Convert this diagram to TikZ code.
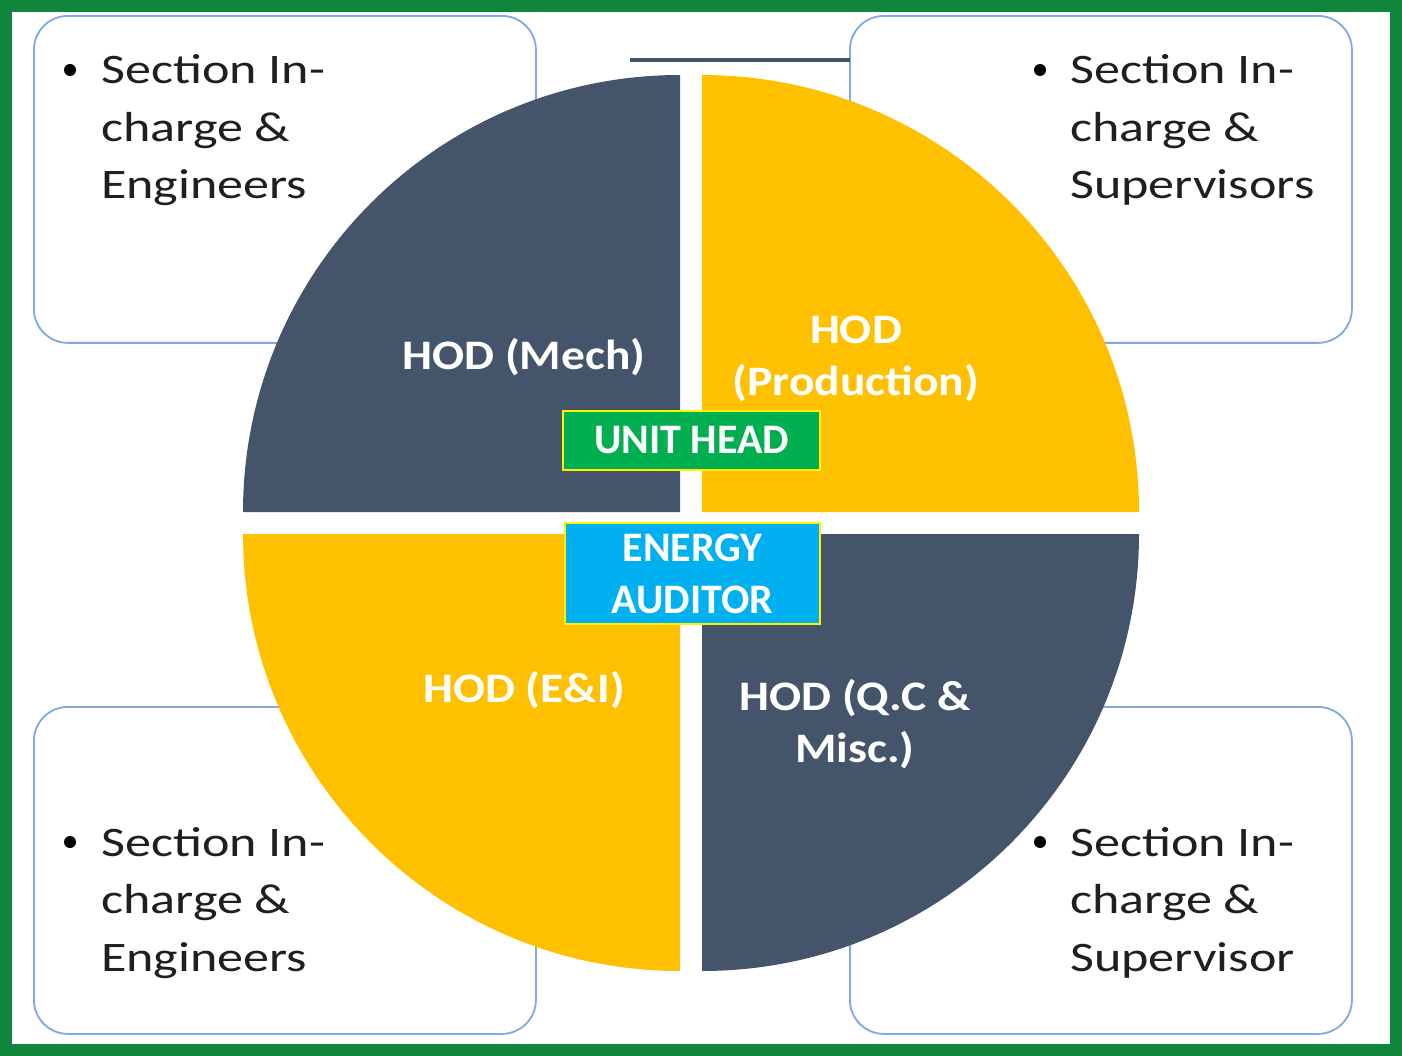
\documentclass[tikz,border=0pt]{standalone}
\usepackage{fontspec}
\setmainfont{Carlito}
\newfontfamily\boxfont[FakeStretch=1.24]{Carlito}
\newfontfamily\hodfont[FakeStretch=1.13]{Carlito}
\definecolor{slate}{HTML}{44546A}
\definecolor{gold}{HTML}{FFC000}
\definecolor{frame}{RGB}{16,134,58}
\definecolor{unitgreen}{HTML}{00B050}
\definecolor{auditblue}{HTML}{00B0F0}
\definecolor{boxline}{RGB}{125,170,225}
\begin{document}
\begin{tikzpicture}[x=1pt,y=1pt,
  corner/.style={draw=boxline,line width=1.8pt,rounded corners=34pt,fill=white,minimum width=502pt,minimum height=327pt,inner sep=0pt,anchor=north west},
  bul/.style={circle,fill=black,minimum size=12pt,inner sep=0pt},
  btext/.style={anchor=base west,align=left,inner sep=0pt,font=\boxfont\fontsize{42}{57.5}\selectfont,text=black!88},
  hod/.style={align=center,inner sep=0pt,text=white,font=\hodfont\bfseries\fontsize{42}{52}\selectfont},
  tag/.style={draw=yellow,line width=1.5pt,inner sep=0pt,text=white,align=center,font=\bfseries\fontsize{42}{52}\selectfont}]
\useasboundingbox (0,0) rectangle (1402,-1056);
\fill[white] (0,0) rectangle (1402,-1056);
% corner boxes
\node[corner] (tl) at (33,-15) {};
\node[corner] (tr) at (849,-15) {};
\node[corner] (bl) at (33,-706) {};
\node[corner] (br) at (849,-706) {};
% top line
\coordinate (la) at (630,-60);
\coordinate (lb) at (850,-60);
\draw[slate,line width=4pt] (la) -- (lb);
% quadrants
\fill[slate] (680,-512) -- (243,-512) arc[start angle=180,end angle=90,radius=437] -- cycle;
\fill[gold] (702,-512) -- (702,-75) arc[start angle=90,end angle=0,radius=437] -- cycle;
\fill[gold] (680,-534) -- (680,-971) arc[start angle=270,end angle=180,radius=437] -- cycle;
\fill[slate] (702,-534) -- (1139,-534) arc[start angle=0,end angle=-90,radius=437] -- cycle;
% corner texts
\node[bul] (b1) at (70,-70) {};
\node[btext] (t1) at (101,-199) {Section In-\\charge \&\\Engineers};
\node[bul] (b2) at (1040,-70) {};
\node[btext] (t2) at (1070,-199) {Section In-\\charge \&\\Supervisors};
\node[bul] (b3) at (70,-842) {};
\node[btext] (t3) at (101,-971) {Section In-\\charge \&\\Engineers};
\node[bul] (b4) at (1040,-842) {};
\node[btext] (t4) at (1070,-971) {Section In-\\charge \&\\Supervisor};
% HOD labels
\node[hod] (mech) at (524,-357) {HOD (Mech)};
\node[hod] (prod) at (856,-359) {HOD\\(Production)};
\node[hod] (ei) at (524,-690) {HOD (E\&I)};
\node[hod] (qc) at (855,-724) {HOD (Q.C \&\\Misc.)};
% center tags
\node[tag,fill=unitgreen,minimum width=257pt,minimum height=59pt] (unit) at (691.5,-440.5) {UNIT HEAD};
\node[tag,fill=auditblue,minimum width=255pt,minimum height=101pt] (audit) at (692.5,-573.5) {ENERGY\\AUDITOR};
% frame
\draw[frame,line width=12pt] (6,-6) rectangle (1396,-1050);
\end{tikzpicture}
\end{document}
